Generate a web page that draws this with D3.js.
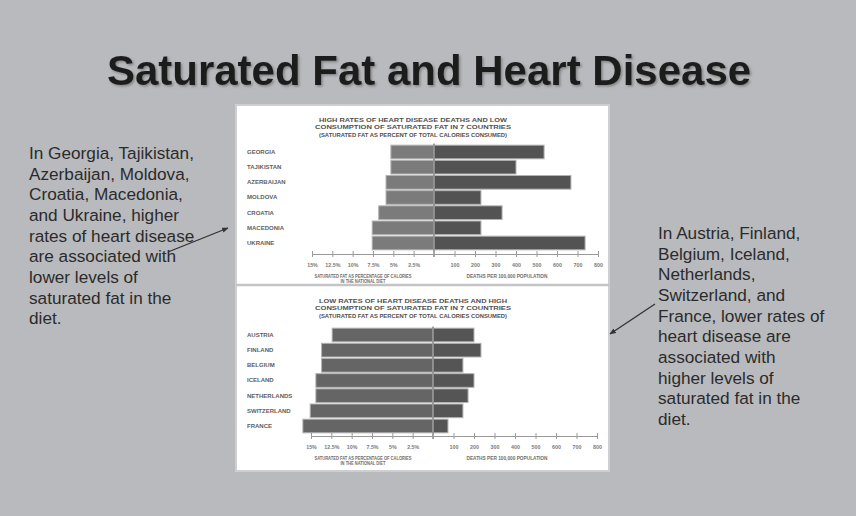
<!DOCTYPE html>
<html>
<head>
<meta charset="utf-8">
<script src="https://cdn.jsdelivr.net/npm/d3@7"></script>
<style>
  html, body { margin: 0; padding: 0; background: #b9babd; }
  svg { display: block; }
</style>
</head>
<body>
<svg id="slide" width="856" height="516"></svg>
<script>
// ---- Data ----
const highRiskCountries = ["GEORGIA", "TAJIKISTAN", "AZERBAIJAN", "MOLDOVA", "CROATIA", "MACEDONIA", "UKRAINE"];
const highRiskSatFat = [5.3, 5.3, 5.9, 5.9, 6.8, 7.6, 7.6];          // saturated fat, % of calories
const highRiskDeaths = [537, 400, 668, 229, 332, 229, 737];          // heart disease deaths per 100,000

const lowRiskCountries = ["AUSTRIA", "FINLAND", "BELGIUM", "ICELAND", "NETHERLANDS", "SWITZERLAND", "FRANCE"];
const lowRiskSatFat = [12.4, 13.7, 13.7, 14.4, 14.4, 15.1, 16.0];
const lowRiskDeaths = [200, 234, 146, 200, 171, 146, 73];

const satFatTicks = [15, 12.5, 10, 7.5, 5, 2.5];
const deathTicks = [100, 200, 300, 400, 500, 600, 700, 800];

const slideTitle = "Saturated Fat and Heart Disease";
const leftNote = ["In Georgia, Tajikistan,", "Azerbaijan, Moldova,", "Croatia, Macedonia,",
  "and Ukraine, higher", "rates of heart disease", "are associated with",
  "lower levels of", "saturated fat in the", "diet."];
const rightNote = ["In Austria, Finland,", "Belgium, Iceland,", "Netherlands,", "Switzerland, and",
  "France, lower rates of", "heart disease are", "associated with", "higher levels of",
  "saturated fat in the", "diet."];

const topChartTitle = ["HIGH RATES OF HEART DISEASE DEATHS AND LOW",
  "CONSUMPTION OF SATURATED FAT IN 7 COUNTRIES",
  "(SATURATED FAT AS PERCENT OF TOTAL CALORIES CONSUMED)"];
const bottomChartTitle = ["LOW RATES OF HEART DISEASE DEATHS AND HIGH",
  "CONSUMPTION OF SATURATED FAT IN 7 COUNTRIES",
  "(SATURATED FAT AS PERCENT OF TOTAL CALORIES CONSUMED)"];
const satFatAxisTitle = ["SATURATED FAT AS PERCENTAGE OF CALORIES", "IN THE NATIONAL DIET"];
const deathAxisTitle = "DEATHS PER 100,000 POPULATION";

// ---- Drawing ----
const svg = d3.select("#slide");
const FONT = "'Liberation Sans', Arial, sans-serif";

const defs = svg.append("defs");
const shadow = defs.append("filter").attr("id", "titleShadow")
  .attr("x", "-5%").attr("y", "-20%").attr("width", "110%").attr("height", "150%");
shadow.append("feDropShadow").attr("dx", 1.5).attr("dy", 1.5).attr("stdDeviation", 1)
  .attr("flood-color", "#555").attr("flood-opacity", 0.55);

defs.append("marker").attr("id", "arrowHead")
  .attr("viewBox", "0 0 10 10").attr("refX", 9).attr("refY", 5)
  .attr("markerWidth", 5).attr("markerHeight", 5).attr("orient", "auto")
  .append("path").attr("d", "M0,1 L10,5 L0,9 Z").attr("fill", "#333");

svg.append("rect").attr("width", 856).attr("height", 516).attr("fill", "#b9babd");

// Slide title
svg.append("text")
  .attr("x", 429).attr("y", 85)
  .attr("text-anchor", "middle")
  .attr("font-family", FONT).attr("font-weight", "bold").attr("font-size", 42)
  .attr("fill", "#1e1e1e").attr("filter", "url(#titleShadow)")
  .text(slideTitle);

// Side notes
function note(lines, x, y0) {
  const t = svg.append("text").attr("font-family", FONT).attr("font-size", 17.2)
    .attr("fill", "#2b2b2b");
  t.selectAll("tspan").data(lines).join("tspan")
    .attr("x", x).attr("y", (d, i) => y0 + i * 20.65).text(d => d);
}
note(leftNote, 29, 159);
note(rightNote, 658, 239);

// Central figure panel
svg.append("rect").attr("x", 236).attr("y", 105).attr("width", 373).attr("height", 366)
  .attr("fill", "#ffffff").attr("stroke", "#cfcfd1").attr("stroke-width", 2);
svg.append("line").attr("x1", 236).attr("x2", 609).attr("y1", 285).attr("y2", 285)
  .attr("stroke", "#c4c4c6").attr("stroke-width", 2.5);

function drawChart(opts) {
  const { countries, satFat, deaths, titleLines, cx, rowTop, axisY, titleY, leftFill, rightFill } = opts;
  const g = svg.append("g");

  const y = d3.scaleBand().domain(countries)
    .range([rowTop, rowTop + 15.17 * countries.length])
    .paddingInner(0.1).paddingOuter(0.05);
  const xFat = d3.scaleLinear().domain([0, 15]).range([cx, cx - 122]);
  const xDeath = d3.scaleLinear().domain([0, 800]).range([cx, cx + 164]);

  // chart title
  g.append("g").selectAll("text").data(titleLines).join("text")
    .attr("x", 413).attr("y", (d, i) => titleY + i * 7.8)
    .attr("text-anchor", "middle")
    .attr("font-family", FONT).attr("font-weight", "bold").attr("font-size", 5.8)
    .attr("fill", "#505050")
    .attr("textLength", (d, i) => i === 1 ? 196 : 188).attr("lengthAdjust", "spacingAndGlyphs")
    .text(d => d);

  // country labels
  g.append("g").selectAll("text").data(countries).join("text")
    .attr("x", 247).attr("y", d => y(d) + y.bandwidth() / 2 + 2)
    .attr("font-family", FONT).attr("font-weight", "bold").attr("font-size", 6)
    .attr("fill", "#5e5e5e")
    .text(d => d);

  // saturated fat bars (to the left)
  g.append("g").selectAll("rect").data(countries).join("rect")
    .attr("x", (d, i) => xFat(satFat[i]))
    .attr("y", d => y(d))
    .attr("width", (d, i) => cx - xFat(satFat[i]))
    .attr("height", y.bandwidth())
    .attr("fill", leftFill).attr("stroke", "#b3b3b3").attr("stroke-width", 1);

  // death-rate bars (to the right)
  g.append("g").selectAll("rect").data(countries).join("rect")
    .attr("x", cx)
    .attr("y", d => y(d))
    .attr("width", (d, i) => xDeath(deaths[i]) - cx)
    .attr("height", y.bandwidth())
    .attr("fill", rightFill).attr("stroke", "#b3b3b3").attr("stroke-width", 1);

  // zero line
  g.append("line").attr("x1", cx).attr("x2", cx)
    .attr("y1", y.range()[0] - 1).attr("y2", axisY + 3)
    .attr("stroke", "#8f8f8f").attr("stroke-width", 1.6);

  // axes
  const fatAxis = d3.axisBottom(xFat).tickValues(satFatTicks)
    .tickFormat(d => d + "%").tickSizeInner(4).tickSizeOuter(0).tickPadding(5);
  const deathAxis = d3.axisBottom(xDeath).tickValues(deathTicks)
    .tickFormat(d3.format("d")).tickSizeInner(4).tickSizeOuter(0).tickPadding(5);

  [fatAxis, deathAxis].forEach(ax => {
    const a = g.append("g").attr("transform", `translate(0,${axisY})`).call(ax);
    a.select(".domain").attr("stroke", "#9a9a9a").attr("stroke-width", 1.2);
    a.selectAll(".tick line").attr("stroke", "#9a9a9a").attr("y1", -3).attr("y2", 3);
    a.selectAll(".tick text").attr("font-family", FONT).attr("font-weight", "bold")
      .attr("font-size", 5.3).attr("fill", "#7a7a7a");
  });

  // axis titles
  g.append("g").selectAll("text").data(satFatAxisTitle).join("text")
    .attr("x", 363).attr("y", (d, i) => axisY + 24 + i * 4.6)
    .attr("text-anchor", "middle")
    .attr("font-family", FONT).attr("font-weight", "bold").attr("font-size", 4.6)
    .attr("fill", "#6e6e6e")
    .attr("textLength", (d, i) => i === 0 ? 97 : 45).attr("lengthAdjust", "spacingAndGlyphs")
    .text(d => d);
  g.append("text")
    .attr("x", 507).attr("y", axisY + 24)
    .attr("text-anchor", "middle")
    .attr("font-family", FONT).attr("font-weight", "bold").attr("font-size", 4.6)
    .attr("fill", "#6e6e6e")
    .attr("textLength", 81).attr("lengthAdjust", "spacingAndGlyphs")
    .text(deathAxisTitle);
}

drawChart({
  countries: highRiskCountries, satFat: highRiskSatFat, deaths: highRiskDeaths,
  titleLines: topChartTitle, cx: 434, rowTop: 144.4, axisY: 254, titleY: 121.5,
  leftFill: "#7b7b7c", rightFill: "#535354"
});
drawChart({
  countries: lowRiskCountries, satFat: lowRiskSatFat, deaths: lowRiskDeaths,
  titleLines: bottomChartTitle, cx: 433, rowTop: 327.4, axisY: 436, titleY: 302.5,
  leftFill: "#656566", rightFill: "#555556"
});

// Pointers from the notes to the charts
svg.append("line").attr("x1", 168).attr("y1", 252).attr("x2", 228).attr("y2", 228)
  .attr("stroke", "#333").attr("stroke-width", 1.3).attr("marker-end", "url(#arrowHead)");
svg.append("line").attr("x1", 655).attr("y1", 304).attr("x2", 610).attr("y2", 334)
  .attr("stroke", "#333").attr("stroke-width", 1.3).attr("marker-end", "url(#arrowHead)");
</script>
</body>
</html>
